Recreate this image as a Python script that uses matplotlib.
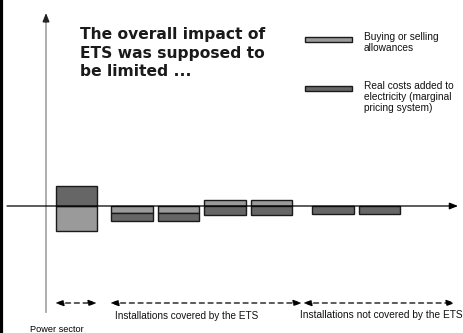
import matplotlib.pyplot as plt
from matplotlib.patches import Rectangle

# Impact per group of installations (arbitrary cost units, + = gain, - = cost)
categories = ["Power sector",
              "Covered A", "Covered B", "Covered C", "Covered D",
              "Not covered A", "Not covered B"]
groups = [0, 1, 1, 1, 1, 2, 2]
allowances = [-25, -7, -7, 6, 6, 0, 0]      # buying or selling allowances
real_costs = [20, -8, -8, -9, -9, -8, -8]   # real costs added to electricity

group_labels = ["Power sector",
                "Installations covered by the ETS",
                "Installations not covered by the ETS"]
title = "The overall impact of\nETS was supposed to\nbe limited ..."
legend_labels = ["Buying or selling\nallowances",
                 "Real costs added to\nelectricity (marginal\npricing system)"]

light = "#9a9a9a"
dark = "#666666"

fig = plt.figure(figsize=(4.64, 3.33), dpi=100)
ax = fig.add_axes([0, 0, 1, 1])
# x in pixels, y in value units with zero at the horizontal axis
ax.set_xlim(0, 464)
ax.set_ylim(-127, 206)
ax.axis("off")

# bar positions: regular step plus a gap before each group
group_gap = [0, 9, 24]
xs = [76.5 + 46.5 * i + group_gap[g] for i, g in enumerate(groups)]
width = 41.5

for x, a, r in zip(xs, allowances, real_costs):
    if a != 0:
        ax.bar(x, a, width=width, color=light, edgecolor="#1a1a1a", lw=1, zorder=2)
    # real costs stack beyond allowances when they go the same way
    bottom = a if a * r > 0 else 0
    ax.bar(x, r, bottom=bottom, width=width, color=dark, edgecolor="#1a1a1a",
           lw=1, zorder=2)

# axes drawn by hand
ax.annotate("", xy=(458, 0), xytext=(7, 0),
            arrowprops=dict(arrowstyle="-|>,head_length=0.5,head_width=0.2",
                            color="black", lw=0.9, shrinkA=0, shrinkB=0),
            zorder=3)
ax.plot([46, 46], [206 - 312, 206 - 20], color="#a8a8a8", lw=1.3, zorder=1)
ax.annotate("", xy=(46, 206 - 13), xytext=(46, 206 - 22),
            arrowprops=dict(arrowstyle="-|>,head_length=0.5,head_width=0.2",
                            color="#222222", lw=1, shrinkA=0, shrinkB=0))

# left frame line
ax.plot([1.2, 1.2], [-127, 206], color="black", lw=2.3, clip_on=False)

# group spans at the bottom
spans = [(55, 97), (110, 302), (303, 455)]
arrow_y = 206 - 303
for x0, x1 in spans:
    ax.annotate("", xy=(x1, arrow_y), xytext=(x0, arrow_y),
                arrowprops=dict(arrowstyle="<|-|>,head_length=0.5,head_width=0.18",
                                color="black", lw=0.9, ls=(0, (4, 3)),
                                shrinkA=0, shrinkB=0))

ax.text(57, 206 - 325, group_labels[0], fontsize=6.6, family="Liberation Sans",
        ha="center", va="top", color="#000000")
ax.text(115, 206 - 311, group_labels[1], fontsize=7.2, family="Liberation Sans",
        ha="left", va="top", color="#111111")
ax.text(463, 206 - 310, group_labels[2], fontsize=7.3, family="Liberation Sans",
        ha="right", va="top", color="#111111")

# title
ax.text(80, 206 - 27, title, fontsize=11.2, fontweight="bold",
        family="DejaVu Sans", ha="left", va="top", linespacing=1.3,
        color="#1a1a1a")

# legend drawn by hand
for (y_top, y_text), label, c in zip([(37, 32), (86, 81)], legend_labels, [light, dark]):
    ax.add_patch(Rectangle((305, 206 - y_top - 5), 47, 5, facecolor=c,
                           edgecolor="#1a1a1a", lw=1))
    ax.text(364, 206 - y_text, label, fontsize=7.3, family="Liberation Sans",
            ha="left", va="top", linespacing=1.15, color="#111111")

fig.savefig("out.png", dpi=100)
